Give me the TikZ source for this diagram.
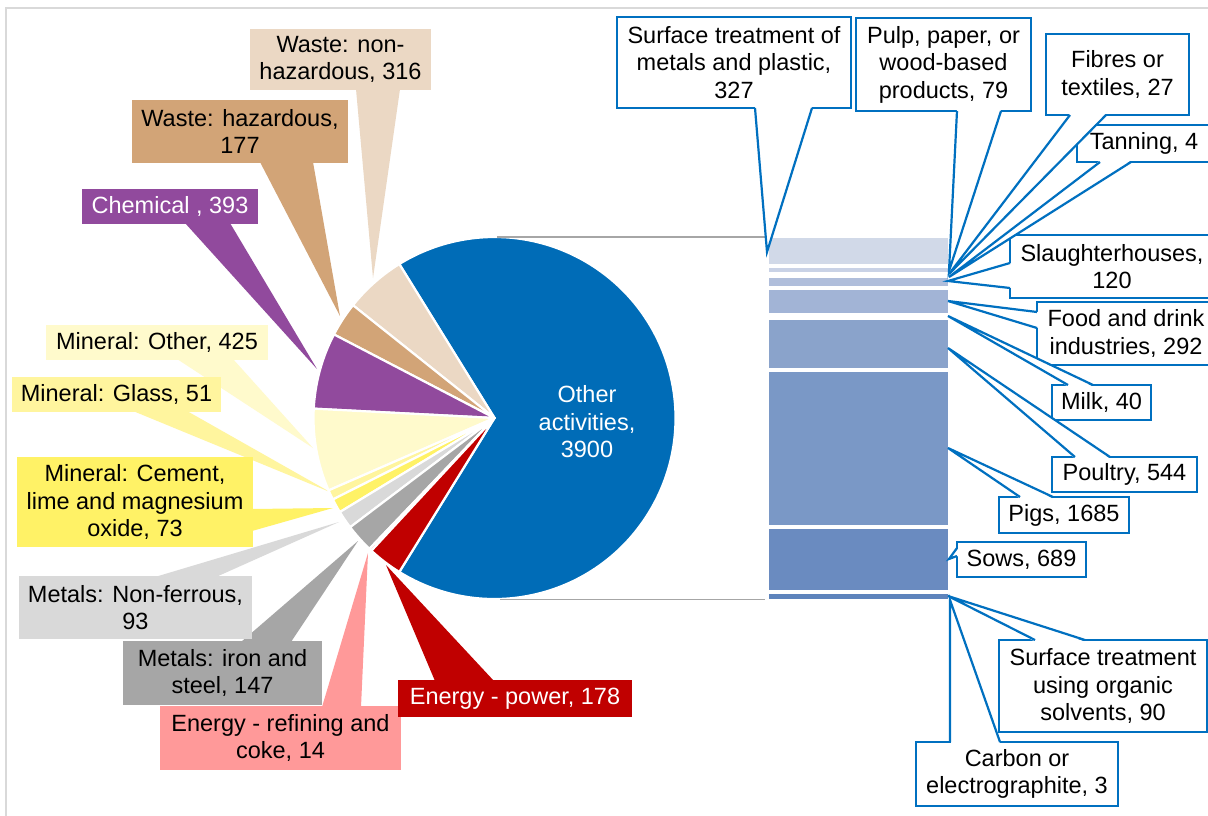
\documentclass[tikz,border=0pt]{standalone}
\usepackage{fontspec}
\setmainfont{Liberation Sans}
\definecolor{cBlue}{HTML}{006CB7}
\definecolor{cWN}{HTML}{EBD8C4}
\definecolor{cWH}{HTML}{D2A477}
\definecolor{cCh}{HTML}{914A9D}
\definecolor{cMO}{HTML}{FFFACC}
\definecolor{cMG}{HTML}{FFF59E}
\definecolor{cMC}{HTML}{FFF266}
\definecolor{cNF}{HTML}{D9D9D9}
\definecolor{cIr}{HTML}{A6A6A6}
\definecolor{cER}{HTML}{FF9999}
\definecolor{cEP}{HTML}{C00000}
\definecolor{cOut}{HTML}{0070C0}
\definecolor{cConn}{HTML}{A6A6A6}
\definecolor{cFrame}{HTML}{D9D9D9}
\definecolor{sA}{HTML}{D1D9E8}
\definecolor{sB}{HTML}{C9D2E6}
\definecolor{sC}{HTML}{B0BEDB}
\definecolor{sD}{HTML}{A2B4D6}
\definecolor{sE}{HTML}{8AA3CB}
\definecolor{sF}{HTML}{7A98C6}
\definecolor{sG}{HTML}{6A8BC0}
\definecolor{sH}{HTML}{5E84BC}
\begin{document}
\begin{tikzpicture}[x=1pt,y=-1pt,
  every node/.style={font=\fontsize{23.5}{27.5}\selectfont, align=center, inner sep=0pt, outer sep=0pt},
  lbox/.style={fill=#1},
  rbox/.style={draw=cOut, fill=white, line width=2.2pt},
  wline/.style={draw=cOut, line width=2.2pt, line join=miter},
  conn/.style={draw=cConn, line width=1.8pt},
  slice/.style={fill=#1, draw=white, line width=2.2pt, line join=round}]
\useasboundingbox (0,0) rectangle (1208,816);
\clip (0,0) rectangle (1208,816);
\fill[white] (0,0) rectangle (1208,816);
\draw[draw=cFrame, line width=2pt] (6,8) rectangle (1240,850);

% ---------- left callout pointers ----------
\coordinate (twn) at (373,278);
\coordinate (twh) at (340,316);
\coordinate (tch) at (317,369);
\coordinate (tmo) at (313,448);
\coordinate (tmg) at (330,492);
\coordinate (tmc) at (333,508);
\coordinate (tnf) at (339,522);
\coordinate (tir) at (358,541);
\coordinate (ter) at (368,553);
\coordinate (tep) at (386,565);
\fill[cWN] (356,89) -- (twn) -- (400,89) -- cycle;
\fill[cWH] (260,162) -- (twh) -- (313,162) -- cycle;
\fill[cCh] (185,223) -- (tch) -- (230,223) -- cycle;
\fill[cMO] (177,359) -- (tmo) -- (233,359) -- cycle;
\fill[cMG] (133,411) -- (tmg) -- (187,411) -- cycle;
\fill[cMC] (252,509) -- (tmc) -- (252,531) -- cycle;
\fill[cNF] (155,577) -- (tnf) -- (216,577) -- cycle;
\fill[cIr] (241,642) -- (tir) -- (291,642) -- cycle;
\fill[cER] (322,707) -- (ter) -- (361,707) -- cycle;
\fill[cEP] (435,681) -- (tep) -- (494,681) -- cycle;

% ---------- left label boxes ----------
\node[lbox=cWN, minimum width=181pt, minimum height=61pt] (wn) at (340.5,59.5) {Waste: non-\\hazardous, 316};
\node[lbox=cWH, minimum width=216pt, minimum height=63pt] (wh) at (240,131.5) {Waste: hazardous,\\177};
\node[lbox=cCh, minimum width=176pt, minimum height=35pt, text=white] (ch) at (170,206.5) {Chemical , 393};
\node[lbox=cMO, minimum width=222pt, minimum height=35pt] (mo) at (157,342.5) {Mineral:\hspace{0.36em}Other, 425};
\node[lbox=cMG, minimum width=209pt, minimum height=35pt] (mg) at (116.5,394.5) {Mineral:\hspace{0.36em}Glass, 51};
\node[lbox=cMC, minimum width=236pt, minimum height=90pt] (mc) at (135,502) {Mineral:\hspace{0.36em}Cement,\\lime and magnesium\\oxide, 73};
\node[lbox=cNF, minimum width=233pt, minimum height=63pt] (nf) at (135.5,607.5) {Metals: Non-ferrous,\\93};
\node[lbox=cIr, minimum width=199pt, minimum height=64pt] (ir) at (222.5,673) {Metals: iron and\\steel, 147};
\node[lbox=cER, minimum width=241pt, minimum height=64pt] (er) at (280.5,738) {Energy - refining and\\coke, 14};
\node[lbox=cEP, minimum width=234pt, minimum height=37pt, text=white] (ep) at (515,698.5) {Energy - power, 178};

% ---------- pie ----------
\begin{scope}[shift={(494.5,418)}, y=1pt]
  \foreach \a/\b/\c in {-121.73/121.73/cBlue, 121.73/141.45/cWN, 141.45/152.50/cWH,
      152.50/177.04/cCh, 177.04/203.57/cMO, 203.57/206.75/cMG, 206.75/211.31/cMC,
      211.31/217.11/cNF, 217.11/226.29/cIr, 226.29/227.16/cER, 227.16/238.27/cEP}
    \filldraw[slice=\c] (0,0) -- (\a:181) arc[start angle=\a, end angle=\b, radius=181pt] -- cycle;
\end{scope}
\node[text=white] (oth) at (587,422) {Other\\activities,\\3900};

% ---------- connector lines pie -> bar ----------
\coordinate (pieT) at (497,237);
\coordinate (barT) at (768,237);
\coordinate (pieB) at (500,599.5);
\coordinate (barB) at (765,599.5);
\draw[conn] (pieT) -- (barT);
\draw[conn] (pieB) -- (barB);

% ---------- bar ----------
\fill[sA] (769,237.7) rectangle (948,264.3);
\fill[sB] (769,267.7) rectangle (948,272.3);
\fill[sC] (769,278.3) rectangle (948,286.3);
\fill[sD] (769,290.0) rectangle (948,313.3);
\fill[sE] (769,320.0) rectangle (948,368.3);
\fill[sF] (769,371.7) rectangle (948,525.3);
\fill[sG] (769,529.3) rectangle (948,590.0);
\fill[sH] (769,594.0) rectangle (948,598.7);

% ---------- right callouts ----------
\node[rbox, minimum width=234pt, minimum height=91pt] (sm) at (734,62.5) {Surface treatment of\\metals and plastic,\\327};
\node[rbox, minimum width=175pt, minimum height=93pt] (pp) at (943.5,64.5) {Pulp, paper, or\\wood-based\\products, 79};
\node[rbox, minimum width=143pt, minimum height=81pt] (ft) at (1117.5,74.5) {Fibres or\\textiles, 27};
\node[rbox, minimum width=134pt, minimum height=37pt] (tn) at (1144,143.5) {Tanning, 4};
\node[rbox, minimum width=204pt, minimum height=63pt] (sl) at (1112,266.5) {Slaughterhouses,\\120};
\node[rbox, minimum width=178pt, minimum height=63pt] (fd) at (1126,333.5) {Food and drink\\industries, 292};
\node[rbox, minimum width=99pt, minimum height=35pt] (mk) at (1101.5,402.5) {Milk, 40};
\node[rbox, minimum width=145pt, minimum height=35pt] (pl) at (1124.5,474.5) {Poultry, 544};
\node[rbox, minimum width=130pt, minimum height=36pt] (pg) at (1064,515) {Pigs, 1685};
\node[rbox, minimum width=129pt, minimum height=35pt] (sw) at (1021.5,559.5) {Sows, 689};
\node[rbox, minimum width=208pt, minimum height=92pt] (so) at (1103,686) {Surface treatment\\using organic\\solvents, 90};
\node[rbox, minimum width=202pt, minimum height=64pt] (cb) at (1017,774) {Carbon or\\electrographite, 3};

\coordinate (tsm) at (767,252);
\coordinate (tpp) at (949,271);
\coordinate (tft) at (949,274);
\coordinate (ttn) at (949,277);
\coordinate (tsl) at (948,281);
\coordinate (tfd) at (948,301);
\coordinate (tmk) at (948,316);
\coordinate (tpl) at (948,348);
\coordinate (tpg) at (948,448);
\coordinate (tsw) at (949,559);
\coordinate (tso) at (948,596);
\coordinate (tcb) at (950,600);

% wedge fills (cover the box border at the base)
\fill[white] (755,106.5) -- (tsm) -- (812,106.5) -- cycle;
\fill[white] (957,109.5) -- (tpp) -- (1001,109.5) -- cycle;
\fill[white] (1070,113.5) -- (tft) -- (1106,113.5) -- cycle;
\fill[white] (1100,160.5) -- (ttn) -- (1131,160.5) -- cycle;
\fill[white] (1011.5,263) -- (tsl) -- (1011.5,288) -- cycle;
\fill[white] (1038.5,312) -- (tfd) -- (1038.5,328) -- cycle;
\fill[white] (1068,386.5) -- (tmk) -- (1093,386.5) -- cycle;
\fill[white] (1075,458.5) -- (tpl) -- (1110,458.5) -- cycle;
\fill[white] (1020,498.5) -- (tpg) -- (1053,498.5) -- cycle;
\fill[white] (958.5,548) -- (tsw) -- (958.5,556) -- cycle;
\fill[white] (1035,641.5) -- (tso) -- (1085,641.5) -- cycle;
\fill[white] (951,743.5) -- (tcb) -- (1000,743.5) -- cycle;

% wedge outlines
\draw[wline] (755,108) -- (tsm) -- (812,108);
\draw[wline] (957,111) -- (tpp) -- (1001,111);
\draw[wline] (1070,115) -- (tft) -- (1106,115);
\draw[wline] (1100,162) -- (ttn) -- (1131,162);
\draw[wline] (1010,263) -- (tsl) -- (1010,288);
\draw[wline] (1037,312) -- (tfd) -- (1037,328);
\draw[wline] (1068,385) -- (tmk) -- (1093,385);
\draw[wline] (1075,457) -- (tpl) -- (1110,457);
\draw[wline] (1020,497) -- (tpg) -- (1053,497);
\draw[wline] (957,548) -- (tsw) -- (957,556);
\draw[wline] (1035,640) -- (tso) -- (1085,640);
\draw[wline] (950,742) -- (tcb) -- (1000,742);
\end{tikzpicture}
\end{document}
